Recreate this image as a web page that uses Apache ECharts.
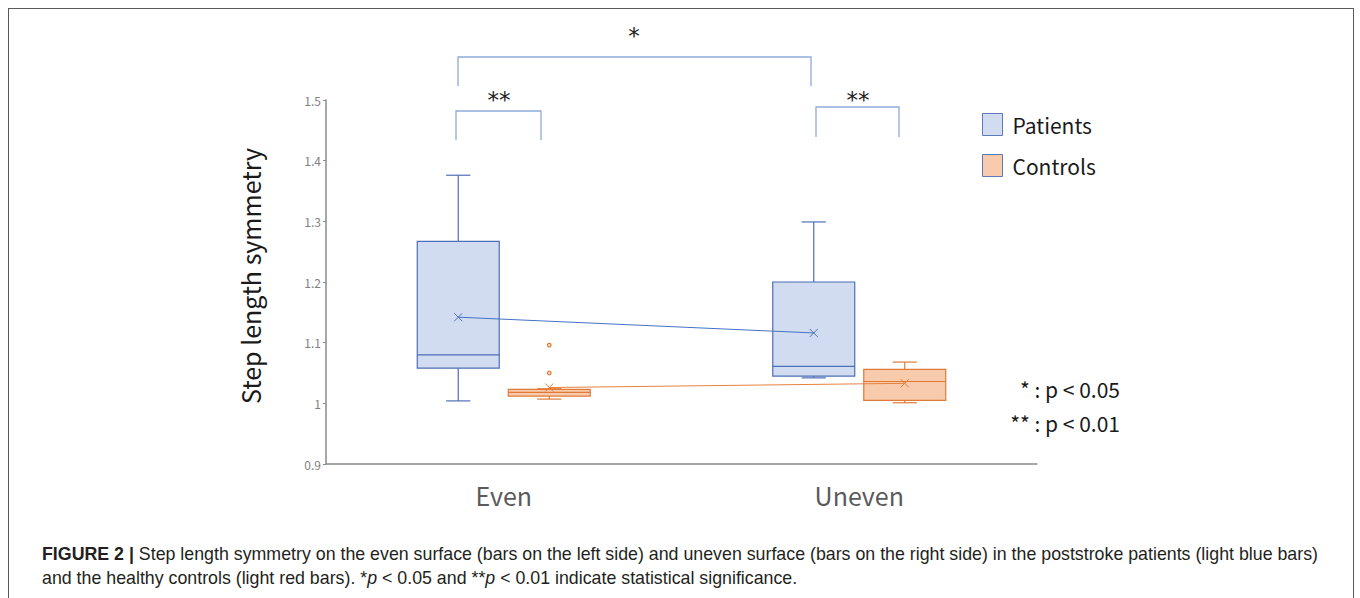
<!DOCTYPE html>
<html>
<head>
<meta charset="utf-8">
<script src="https://cdn.jsdelivr.net/npm/echarts@6/dist/echarts.min.js"></script>
<style>
html,body{margin:0;padding:0;background:#fff;}
#chart{position:absolute;left:0;top:0;width:1360px;height:598px;}
#frame{position:absolute;left:8px;top:8px;width:1344px;height:600px;border:1px solid #5a5a5a;border-bottom:none;pointer-events:none;}
</style>
</head>
<body>
<div id="chart"></div>
<div id="frame"></div>
<script>
// ---- data ----
const categories = ['Even', 'Uneven'];
const yTicks = [0.9, 1.0, 1.1, 1.2, 1.3, 1.4, 1.5];
// [low whisker, Q1, median, Q3, high whisker]
const patientsBox = [
  [1.004, 1.058, 1.080, 1.267, 1.376],
  [1.042, 1.045, 1.061, 1.200, 1.299]
];
const patientsMean = [1.142, 1.116];
const controlsBox = [
  [1.007, 1.012, 1.018, 1.023, 1.024],
  [1.001, 1.005, 1.036, 1.056, 1.068]
];
const controlsMean = [1.026, 1.033];
const controlsOutliers = [[0, 1.096], [0, 1.050]];
const legendNames = ['Patients', 'Controls'];
const pLegend = ['* : p < 0.05', '** : p < 0.01'];

const blueStroke = '#4d6fb8', blueFill = '#d1dcf0';
const orangeStroke = '#e07a36', orangeFill = '#f8cbad';
const bracketColor = '#8eaadb';
const jp = "'Noto Sans CJK JP', 'Noto Sans', sans-serif";
const cap = "'Liberation Sans', Arial, sans-serif";

const OFF = 0.128, HALF = 0.1153, CAP = 0.034;

function boxRender(sign, stroke, fill) {
  return function (params, api) {
    const cat = api.value(0);
    const bw = api.size([1, 0])[0];
    const cx = api.coord([cat, 1])[0] + sign * OFF * bw;
    const hw = HALF * bw, cw = CAP * bw;
    const y = i => api.coord([cat, api.value(i)])[1];
    const lo = y(1), q1 = y(2), md = y(3), q3 = y(4), hi = y(5), mn = y(6);
    const ls = {stroke: stroke, lineWidth: 1.2, fill: null};
    const m = 4;
    return {
      type: 'group',
      children: [
        {type: 'line', shape: {x1: cx, y1: q3, x2: cx, y2: hi}, style: ls},
        {type: 'line', shape: {x1: cx, y1: q1, x2: cx, y2: lo}, style: ls},
        {type: 'line', shape: {x1: cx - cw, y1: hi, x2: cx + cw, y2: hi}, style: ls},
        {type: 'line', shape: {x1: cx - cw, y1: lo, x2: cx + cw, y2: lo}, style: ls},
        {type: 'rect', shape: {x: cx - hw, y: q3, width: 2 * hw, height: q1 - q3},
          style: {fill: fill, stroke: stroke, lineWidth: 1.2}},
        {type: 'line', shape: {x1: cx - hw, y1: md, x2: cx + hw, y2: md}, style: ls},
        {type: 'line', shape: {x1: cx - m, y1: mn - m, x2: cx + m, y2: mn + m}, style: {stroke: stroke, lineWidth: 1}},
        {type: 'line', shape: {x1: cx - m, y1: mn + m, x2: cx + m, y2: mn - m}, style: {stroke: stroke, lineWidth: 1}}
      ]
    };
  };
}
function meanLineRender(sign, stroke) {
  return function (params, api) {
    const bw = api.size([1, 0])[0];
    const p0 = api.coord([api.value(0), api.value(1)]);
    const p1 = api.coord([api.value(2), api.value(3)]);
    return {type: 'line', shape: {x1: p0[0] + sign * OFF * bw, y1: p0[1], x2: p1[0] + sign * OFF * bw, y2: p1[1]},
      style: {stroke: stroke, lineWidth: 1}};
  };
}
function outlierRender(sign, stroke) {
  return function (params, api) {
    const bw = api.size([1, 0])[0];
    const p = api.coord([api.value(0), api.value(1)]);
    return {type: 'circle', shape: {cx: p[0] + sign * OFF * bw, cy: p[1], r: 1.8},
      style: {stroke: stroke, fill: '#fbe3d2', lineWidth: 1.2}};
  };
}

const pData = patientsBox.map((b, i) => [i, ...b, patientsMean[i]]);
const cData = controlsBox.map((b, i) => [i, ...b, controlsMean[i]]);

const chart = echarts.init(document.getElementById('chart'), null, {renderer: 'svg'});
const starStyle = {fontSize: 23, fill: '#222', align: 'center', verticalAlign: 'middle', fontFamily: "'DejaVu Sans', sans-serif"};
const option = {
  animation: false,
  grid: {left: 326, right: 323, top: 100, bottom: 134},
  legend: {
    data: legendNames, orient: 'vertical', left: 982, top: 113, padding: 0,
    itemWidth: 20, itemHeight: 22, itemGap: 18, icon: 'rect',
    itemStyle: {borderColor: '#5d7bba', borderWidth: 1},
    textStyle: {fontSize: 21, color: '#1a1a1a', fontFamily: jp, padding: [-2, 0, 0, 5]}
  },
  xAxis: {
    type: 'category', data: categories,
    axisLine: {lineStyle: {color: '#8a8a8a', width: 1.5}},
    axisTick: {show: false},
    axisLabel: {fontSize: 25, color: '#5a5a5a', margin: 18, fontFamily: jp},
    splitLine: {show: false}
  },
  yAxis: {
    type: 'value', min: yTicks[0], max: yTicks[yTicks.length - 1], interval: 0.1,
    axisLine: {show: true, lineStyle: {color: '#8a8a8a', width: 1.5}},
    axisTick: {show: true, length: 3, lineStyle: {color: '#8a8a8a'}},
    axisLabel: {fontSize: 12, color: '#7f7f7f', margin: 5, fontFamily: jp,
      formatter: v => String(Math.round(v * 10) / 10)},
    splitLine: {show: false}
  },
  series: [
    {name: 'Patients', type: 'custom', data: pData, renderItem: boxRender(-1, blueStroke, blueFill),
      itemStyle: {color: blueFill, borderColor: '#5d7bba'}, encode: {x: 0, y: [1, 2, 3, 4, 5, 6]}, z: 2},
    {name: 'Controls', type: 'custom', data: cData, renderItem: boxRender(1, orangeStroke, orangeFill),
      itemStyle: {color: orangeFill, borderColor: '#5d7bba'}, encode: {x: 0, y: [1, 2, 3, 4, 5, 6]}, z: 2},
    {name: 'PatientsMeanLine', type: 'custom', data: [[0, patientsMean[0], 1, patientsMean[1]]],
      renderItem: meanLineRender(-1, '#4472c4'), encode: {x: [0, 2], y: [1, 3]}, z: 3},
    {name: 'ControlsMeanLine', type: 'custom', data: [[0, controlsMean[0], 1, controlsMean[1]]],
      renderItem: meanLineRender(1, '#e6823f'), encode: {x: [0, 2], y: [1, 3]}, z: 3},
    {name: 'ControlsOutliers', type: 'custom', data: controlsOutliers,
      renderItem: outlierRender(1, orangeStroke), encode: {x: 0, y: 1}, z: 3}
  ],
  graphic: [
    // significance brackets
    {type: 'polyline', shape: {points: [[458, 86], [458, 57], [811, 57], [811, 86]]}, style: {stroke: bracketColor, lineWidth: 1.3, fill: null}},
    {type: 'polyline', shape: {points: [[456, 140], [456, 111], [541, 111], [541, 140]]}, style: {stroke: bracketColor, lineWidth: 1.3, fill: null}},
    {type: 'polyline', shape: {points: [[816, 137], [816, 107], [899, 107], [899, 137]]}, style: {stroke: bracketColor, lineWidth: 1.3, fill: null}},
    {type: 'text', x: 634, y: 36, style: Object.assign({text: '*'}, starStyle)},
    {type: 'text', x: 499, y: 100, style: Object.assign({text: '**'}, starStyle)},
    {type: 'text', x: 858, y: 100, style: Object.assign({text: '**'}, starStyle)},
    // p-value legend
    {type: 'text', x: 1120, y: 389, style: {text: pLegend[0], fontSize: 21, fill: '#1a1a1a', align: 'right', verticalAlign: 'middle', fontFamily: jp,
      rich: {}}},
    {type: 'text', x: 1120, y: 423, style: {text: pLegend[1], fontSize: 21, fill: '#1a1a1a', align: 'right', verticalAlign: 'middle', fontFamily: jp}},
    // y axis title
    {type: 'text', x: 250, y: 276, rotation: Math.PI / 2,
      style: {text: 'Step length symmetry', fontSize: 25, fill: '#1a1a1a', align: 'center', verticalAlign: 'middle', fontFamily: jp}},
    // caption
    {type: 'text', x: 42, y: 554,
      style: {
        text: '{b|FIGURE 2 |} Step length symmetry on the even surface (bars on the left side) and uneven surface (bars on the right side) in the poststroke patients (light blue bars)',
        fontSize: 17.8, fill: '#231f20', verticalAlign: 'middle', fontFamily: cap,
        rich: {b: {fontWeight: 'bold', fontSize: 17.8, fill: '#231f20', fontFamily: cap}}
      }},
    {type: 'text', x: 42, y: 578,
      style: {
        text: 'and the healthy controls (light red bars). *{i|p} < 0.05 and **{i|p} < 0.01 indicate statistical significance.',
        fontSize: 17.8, fill: '#231f20', verticalAlign: 'middle', fontFamily: cap,
        rich: {i: {fontStyle: 'italic', fontSize: 17.8, fill: '#231f20', fontFamily: cap}}
      }}
  ]
};
chart.setOption(option);
</script>
</body>
</html>
